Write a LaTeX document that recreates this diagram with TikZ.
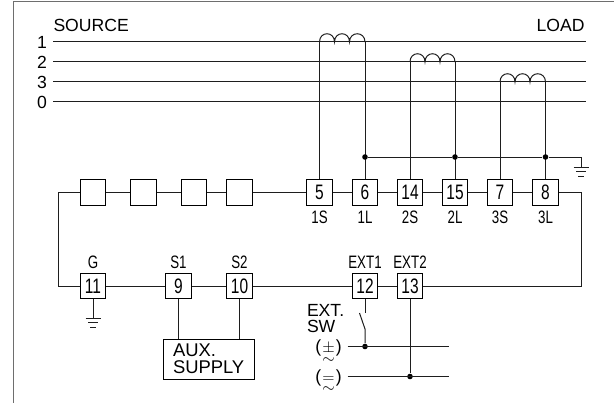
\documentclass[tikz,border=0pt]{standalone}
\usepackage{amsmath}
\usepackage{fontspec}
\usetikzlibrary{calc}
\setmainfont{Liberation Sans}
\newfontfamily\narrowfont[FakeStretch=0.74]{Liberation Sans}
\tikzset{every picture/.style={line width=0.75pt}}
\tikzset{
	wire/.style={draw={rgb, 255:red, 30; green, 30; blue, 30 }},
	term/.style={draw,minimum width=19pt,minimum height=19pt,inner sep=0pt,font=\narrowfont\fontsize{15.7}{15.7}\selectfont},
	tag/.style={inner sep=0pt,font=\narrowfont\fontsize{13.5}{13.5}\selectfont},
	lab/.style={inner sep=0pt,font=\fontsize{13.2}{13.2}\selectfont},
	dot/.style={circle,fill=black,inner sep=0pt,minimum size=4.2pt}}
\newcommand{\coil}[3]{\draw [wire] (#1,#3) .. controls (#1,#3-11) and (#1+15,#3-11) .. (#1+15,#3) .. controls (#1+15,#3-11) and (#1+30,#3-11) .. (#1+30,#3) .. controls (#1+30,#3-11) and (#2,#3-11) .. (#2,#3) ;}
\newcommand{\earth}[1]{\draw [wire] ($(#1)+(-7.5,0)$) -- ($(#1)+(7.5,0)$) ($(#1)+(-5,4.5)$) -- ($(#1)+(5,4.5)$) ($(#1)+(-3,9)$) -- ($(#1)+(3,9)$) ;}
\newcommand{\supply}[1]{(\makebox[11pt]{\smash{$\underset{\textstyle\sim}{#1}$}})}

\begin{document}
\begin{tikzpicture}[x=0.75pt,y=0.75pt,yscale=-1,xscale=1]
	\useasboundingbox (0,0) rectangle (614,403);

	%Outer frame
	\draw [draw={rgb, 255:red, 110; green, 110; blue, 110 }] (614,1.5) -- (13,1.5) -- (13,403) ;

	%Phase lines
	\foreach \name/\ypos in {1/42,2/62,3/82,0/102} {
		\node [lab,anchor=east] (ph\name) at (47.5,\ypos+0.7) {\name};
		\coordinate (s\name) at (53,\ypos);
		\coordinate (l\name) at (586,\ypos);
		\draw [wire] (s\name) -- (l\name);
	}
	\node [lab,anchor=base west] (source) at (53,32) {SOURCE};
	\node [lab,anchor=base east] (load) at (585,32) {LOAD};

	%Terminals top row
	\foreach \id/\xpos in {a/93,b/143.5,c/194,d/239.5} \node [term] (t\id) at (\xpos,192.5) {};
	\foreach \id/\xpos/\lbl in {5/319.5/1S,6/365/1L,14/410/2S,15/455/2L,7/500/3S,8/545.5/3L} {
		\node [term] (t\id) at (\xpos,192.5) {\id};
		\node [tag] (n\id) at (\xpos,217) {\lbl};
	}

	%Terminals bottom row
	\foreach \id/\xpos/\lbl in {11/93/G,9/178.5/S1,10/239.5/S2,12/365/EXT1,13/410/EXT2} {
		\node [term] (t\id) at (\xpos,286) {\id};
		\node [tag] (n\id) at (\xpos,262.5) {\lbl};
	}

	%Aux supply
	\node [draw,minimum width=68pt,minimum height=30pt,inner sep=0pt] (aux) at (208.75,359) {};
	\node [lab,anchor=base west,font=\fontsize{13.8}{13.8}\selectfont] (auxa) at (172.5,356.5) {AUX.};
	\node [lab,anchor=base west,font=\fontsize{13.8}{13.8}\selectfont] (auxb) at (172.5,373.5) {SUPPLY};

	%Coils
	\coil{319.5}{365}{42}
	\coil{410}{455}{62}
	\coil{500}{545.5}{82}

	%Coil leads
	\foreach \id/\ypos in {5/42,6/42,14/62,15/62,7/82,8/82} \draw [wire] (t\id.north) -- (t\id.north |- 0,\ypos);

	%Common return
	\coordinate (gnd) at (581,157);
	\coordinate (gndb) at (581,167);
	\node [dot] (j6) at (t6.north |- gnd) {};
	\node [dot] (j15) at (t15.north |- gnd) {};
	\node [dot] (j8) at (t8.north |- gnd) {};
	\draw [wire] (j6) -- (j15) -- (j8) -- (gnd) -- (gndb);
	\earth{gndb}

	%Ring
	\coordinate (ringl) at (58,192.5);
	\coordinate (ringr) at (581,192.5);
	\draw [wire] (t11) -- (t11 -| ringl) -- (ringl) -- (ta);
	\draw [wire] (ta) -- (tb);
	\draw [wire] (tb) -- (tc);
	\draw [wire] (tc) -- (td);
	\draw [wire] (td) -- (t5);
	\draw [wire] (t5) -- (t6);
	\draw [wire] (t6) -- (t14);
	\draw [wire] (t14) -- (t15);
	\draw [wire] (t15) -- (t7);
	\draw [wire] (t7) -- (t8);
	\draw [wire] (t8) -- (ringr) -- (ringr |- t13) -- (t13);
	\draw [wire] (t11) -- (t9);
	\draw [wire] (t9) -- (t10);
	\draw [wire] (t10) -- (t12);
	\draw [wire] (t12) -- (t13);

	%Earth of terminal 11
	\coordinate (gndg) at (93,318);
	\draw [wire] (t11) -- (gndg);
	\earth{gndg}

	%Aux supply leads
	\draw [wire] (t9) -- (t9 |- aux.north);
	\draw [wire] (t10) -- (t10 |- aux.north);

	%External switch
	\node [lab,anchor=base west] (extsw) at (306.5,316.5) {EXT.};
	\node [lab,anchor=base west] (extswb) at (306.5,332) {SW};
	\coordinate (swa) at (365,312.5);
	\coordinate (swb) at (359.5,313);
	\coordinate (swc) at (365,329);
	\coordinate (plusl) at (347.5,346.5);
	\coordinate (plusr) at (449,346.5);
	\coordinate (minl) at (347.5,376.5);
	\coordinate (minr) at (449,376.5);
	\node [dot] (jp) at (swc |- plusl) {};
	\node [dot] (jm) at (t13 |- minl) {};
	\draw [wire] (t12) -- (swa);
	\draw [wire] (swb) -- (swc) -- (jp);
	\draw [wire] (plusl) -- (plusr);
	\draw [wire] (minl) -- (minr);
	\draw [wire] (t13) -- (jm);
	\node [lab] (plus) at (328.5,348) {\supply{\pm}};
	\node [lab] (minus) at (328.5,378) {\supply{=}};

\end{tikzpicture}
\end{document}
